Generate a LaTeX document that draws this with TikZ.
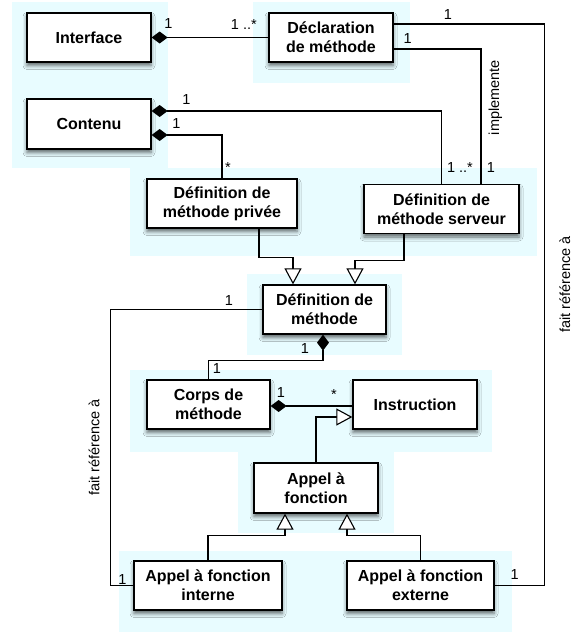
\documentclass[tikz,border=0pt]{standalone}
\usepackage{fontspec}
\setmainfont{Liberation Sans}
\usetikzlibrary{arrows.meta}
\usetikzlibrary{positioning,shadows.blur}
\definecolor{zone}{RGB}{232,252,255}
\tikzset{
    classe/.style={
           rectangle,
           draw=black, line width=1.3pt,
           fill=white,
           minimum height=49pt,
           inner sep=2pt,
           align=center,
           font=\fontsize{16}{19}\selectfont\bfseries,
           blur shadow={shadow xshift=0pt, shadow yshift=-3.5pt,
                        shadow blur radius=4pt, shadow opacity=60},
           },
    card/.style={font=\fontsize{14.5}{17}\selectfont,
           inner sep=0pt, text height=10pt, text depth=0pt},
    comp/.style={{Diamond[length=16pt,width=12pt]}-},
    herit/.style={-{Triangle[length=16pt,width=17pt,fill=white]}},
}

\begin{document}
\begin{tikzpicture}[x=1pt,y=-1pt,line width=1.1pt]
 \useasboundingbox (0,0) rectangle (572,632);

 % light blue zones behind the classes
 \fill[zone] (12,2) rectangle (168,168);
 \fill[zone] (253,2) rectangle (410,83);
 \fill[zone] (130,168) rectangle (537,256);
 \fill[zone] (247,274) rectangle (402,355);
 \fill[zone] (130,370) rectangle (492,452);
 \fill[zone] (238,440) rectangle (394,533);
 \fill[zone] (119,551) rectangle (512,632);

 % top row
 \node[classe, minimum width=124pt] (Interface) at (89,37.5) {Interface};
 \node[classe, minimum width=124pt,
  right of=Interface,
  node distance=242pt,
  anchor=center] (Declaration) {D\'eclaration\\de m\'ethode};
 \node[classe, minimum width=124pt, minimum height=50pt,
  below of=Interface,
  node distance=86.5pt,
  anchor=center] (Contenu) {Contenu};

 % definitions
 \node[classe, minimum width=150pt] (Privee) at (222,203.5) {D\'efinition de\\m\'ethode priv\'ee};
 \node[classe, minimum width=155pt] (Serveur) at (441.5,209) {D\'efinition de\\m\'ethode serveur};
 \node[classe, minimum width=123pt] (DefMethode) at (324.5,309.5) {D\'efinition de\\m\'ethode};

 % body of the method
 \node[classe, minimum width=123pt] (Corps) at (208.5,404.5) {Corps de\\m\'ethode};
 \node[classe, minimum width=124pt,
  right of=Corps,
  node distance=206.5pt,
  anchor=center] (Instruction) {Instruction};
 \node[classe, minimum width=124pt, minimum height=50pt] (Appel) at (316,488) {Appel \`a\\fonction};

 % calls
 \node[classe, minimum width=148pt] (Interne) at (208,585.5) {Appel \`a fonction\\interne};
 \node[classe, minimum width=147pt,
  right of=Interne,
  node distance=212.5pt,
  anchor=center] (Externe) {Appel \`a fonction\\externe};

 % associations
 \draw[comp] (Interface) -- node[card, pos=0.144, yshift=14pt]{1}
  node[card, pos=0.79, yshift=13pt]{1 ..*} (Declaration);
 \draw ([yshift=13.5pt]Declaration.east) -- node[card, pos=0.36, yshift=9.5pt]{1} ++(151,0)
  |- node[card, pos=0.232, xshift=20.5pt, rotate=90]{fait r\'ef\'erence \`a}
  node[card, pos=0.8, yshift=11.5pt]{1} (Externe.east);
 \draw ([yshift=-11.5pt]Declaration.east) -| node[card, pos=0.08, yshift=11pt]{1}
  node[card, pos=0.68, xshift=13pt, rotate=90]{implemente}
  node[card, pos=0.94, xshift=10pt]{1} ([xshift=39.5pt]Serveur.north);
 \draw[comp] ([yshift=13pt]Contenu.east) -| node[card, pos=0.06, yshift=12pt]{1}
  node[card, pos=0.89, xshift=18.5pt]{1 ..*} (Serveur.north);
 \draw[comp] ([yshift=-11pt]Contenu.east) -| node[card, pos=0.176, yshift=12pt]{1}
  node[card, pos=0.875, xshift=6pt]{*} (Privee.north);

 % generalisations
 \draw[herit] ([xshift=37pt]Privee.south) -- ++(0,29) -| ([xshift=-31.5pt]DefMethode.north);
 \draw[herit] ([xshift=-37.5pt]Serveur.south) -- ++(0,26) -| ([xshift=30.5pt]DefMethode.north);

 \draw[comp] ([xshift=-1.5pt]DefMethode.south) -- node[card, pos=0.54, xshift=-18pt]{1} ++(0,26)
  -| node[card, pos=0.7, xshift=8.5pt]{1} (Corps.north);
 \draw[comp] ([yshift=-1.5pt]Corps.east) -- node[card, pos=0.127, yshift=14pt]{1}
  node[card, pos=0.776, yshift=12pt]{*} ([yshift=-1.5pt]Instruction.west);

 \draw[herit] (Appel.north) |- ([yshift=-12.5pt]Instruction.west);
 \draw[herit] (Interne.north) -- ++(0,-25) -| ([xshift=-31pt]Appel.south);
 \draw[herit] (Externe.north) -- ++(0,-25) -| ([xshift=31pt]Appel.south);

 \draw (DefMethode.west) -- node[card, pos=0.22, yshift=9.5pt]{1} ++(-152,0)
  |- node[card, pos=0.25, xshift=-16pt, rotate=90]{fait r\'ef\'erence \`a}
  node[card, pos=0.76, yshift=6pt]{1} (Interne.west);

\end{tikzpicture}
\end{document}
